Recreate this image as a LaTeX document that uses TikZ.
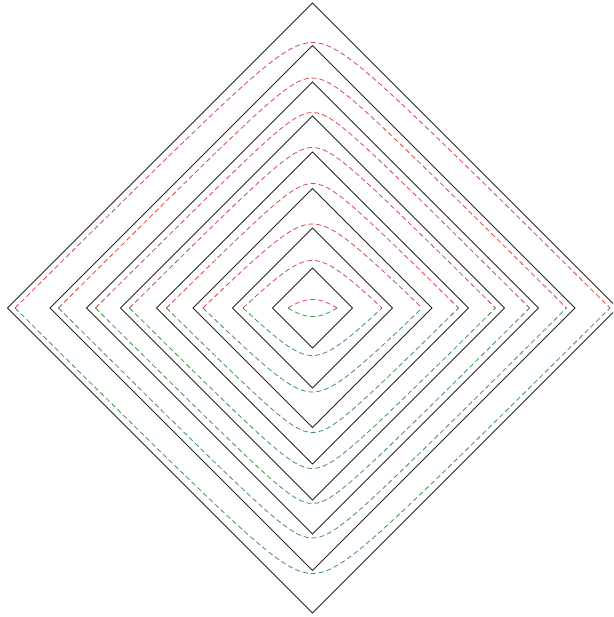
\documentclass[tikz,border=0pt]{standalone}
\usepackage{xcolor}
\usepackage{tikz}

\definecolor{redc}{RGB}{214,72,72}
\definecolor{greenc}{RGB}{60,150,76}

\begin{document}
\begin{tikzpicture}[
  x=10pt,y=10pt,
  ring/.style={draw=black!85,line width=0.9pt,line join=miter},
  upper/.style={draw=redc,line width=0.8pt,dash pattern=on 5pt off 3pt},
  lower/.style={draw=greenc,line width=0.8pt,dash pattern=on 5pt off 3pt}
]
\useasboundingbox (-31.25,-30.9) rectangle (30.05,30.8);
\clip (-31.25,-30.9) rectangle (30.05,30.8);

% level sets of |x|+|y|
\foreach \d in {30.5,26.25,22.6,19.2,15.6,11.95,8.0,4.0}
  \draw[ring] (-\d,0) -- (0,\d) -- (\d,0) -- (0,-\d) -- cycle;

% smoothed level sets, upper and lower halves
\foreach \a/\c in {29.94/3.39,25.53/2.53,21.82/2.27,18.46/2.41,
                   14.79/2.34,11.34/2.94,7.46/2.71,3.95/3.10}{
  \pgfmathsetmacro{\w}{sqrt(\a*\a-\c*\c)}
  \draw[upper] plot[domain=-\w:\w,samples=121] (\x,{\a-sqrt(\x*\x+\c*\c)});
  \draw[lower] plot[domain=-\w:\w,samples=121] (\x,{sqrt(\x*\x+\c*\c)-\a});
}
\end{tikzpicture}
\end{document}
